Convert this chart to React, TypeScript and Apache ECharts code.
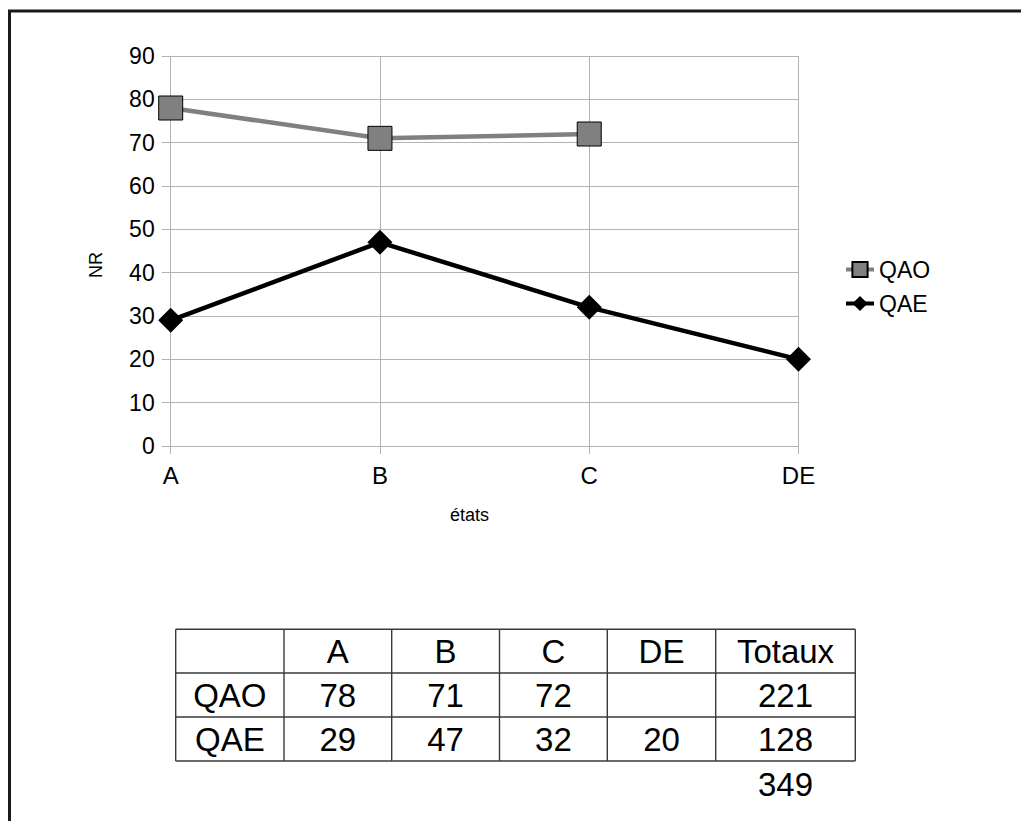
import React, { useEffect, useRef } from "react";
import * as echarts from "echarts";

const categories = ["A", "B", "C", "DE"];
const qaoValues: (number | null)[] = [78, 71, 72, null];
const qaeValues: (number | null)[] = [29, 47, 32, 20];
const seriesNames = ["QAO", "QAE"];
const yTicks = { min: 0, max: 90, interval: 10 };
const totalHeader = "Totaux";

const FONT = "Liberation Sans, Arial, sans-serif";

function sum(arr: (number | null)[]) {
  return arr.reduce((a: number, b) => a + (b == null ? 0 : b), 0);
}

function buildTable() {
  const colX = [175.7, 284, 391.7, 499.5, 607.3, 715.7, 855.3];
  const rowY = [629.3, 673, 717, 761];
  const els: any[] = [];
  const lineStyle = { stroke: "#3a3a3a", lineWidth: 1.4 };
  rowY.forEach((y) => {
    els.push({ type: "line", shape: { x1: colX[0], y1: y, x2: colX[colX.length - 1], y2: y }, style: lineStyle, silent: true });
  });
  colX.forEach((x) => {
    els.push({ type: "line", shape: { x1: x, y1: rowY[0], x2: x, y2: rowY[rowY.length - 1] }, style: lineStyle, silent: true });
  });
  const cx = (i: number) => (colX[i] + colX[i + 1]) / 2;
  const cy = (j: number) => (rowY[j] + rowY[j + 1]) / 2;
  const txt = (s: string, x: number, y: number) => ({
    type: "text",
    x,
    y,
    style: { text: s, fontSize: 33, fontFamily: FONT, fill: "#000", align: "center", verticalAlign: "middle" },
    silent: true,
  });
  const header = ["", ...categories, totalHeader];
  header.forEach((h, i) => { if (h) els.push(txt(h, cx(i), cy(0))); });
  const rows = [qaoValues, qaeValues];
  rows.forEach((vals, r) => {
    els.push(txt(seriesNames[r], cx(0), cy(r + 1)));
    vals.forEach((v, i) => { if (v != null) els.push(txt(String(v), cx(i + 1), cy(r + 1))); });
    els.push(txt(String(sum(vals)), cx(5), cy(r + 1)));
  });
  els.push(txt(String(sum(qaoValues) + sum(qaeValues)), cx(5), rowY[3] + 23));
  return els;
}

export default function App() {
  const ref = useRef<HTMLDivElement>(null);
  useEffect(() => {
    const chart = echarts.init(ref.current!, null, { renderer: "svg" });
    const option: any = {
      animation: false,
      backgroundColor: "#ffffff",
      textStyle: { fontFamily: FONT },
      grid: { left: 170.7, top: 56, right: 222.5, bottom: 375, containLabel: false },
      legend: {
        orient: "vertical",
        left: 839,
        top: 253,
        itemWidth: 28,
        itemHeight: 19,
        itemGap: 11,
        lineStyle: { width: 4 },
        textStyle: { fontSize: 23, color: "#000", fontFamily: FONT },
        data: seriesNames,
      },
      xAxis: {
        type: "category",
        data: categories,
        boundaryGap: false,
        name: "états",
        nameLocation: "middle",
        nameGap: 60,
        nameTextStyle: { fontSize: 18, color: "#000", fontFamily: FONT, padding: [0, 30, 0, 0] },
        axisLine: { show: true, lineStyle: { color: "#b3b3b3", width: 1 } },
        axisTick: { show: true, length: 8, alignWithLabel: true, lineStyle: { color: "#b3b3b3" } },
        axisLabel: { fontSize: 24, color: "#000", margin: 17, fontFamily: FONT },
        splitLine: { show: true, lineStyle: { color: "#b3b3b3", width: 1 } },
      },
      yAxis: {
        type: "value",
        min: yTicks.min,
        max: yTicks.max,
        interval: yTicks.interval,
        name: "NR",
        nameLocation: "middle",
        nameRotate: 90,
        nameGap: 66,
        nameTextStyle: { fontSize: 18, color: "#000", fontFamily: FONT, padding: [0, 28, 0, 0] },
        axisLine: { show: true, lineStyle: { color: "#b3b3b3", width: 1 } },
        axisTick: { show: true, length: 9, lineStyle: { color: "#b3b3b3" } },
        axisLabel: { fontSize: 23, color: "#000", margin: 16, fontFamily: FONT },
        splitLine: { show: true, lineStyle: { color: "#b3b3b3", width: 1 } },
      },
      series: [
        {
          name: seriesNames[0],
          type: "line",
          data: qaoValues,
          symbol: "rect",
          symbolSize: 24,
          lineStyle: { color: "#808080", width: 4.5 },
          itemStyle: { color: "#808080", borderColor: "#000", borderWidth: 1 },
          z: 3,
        },
        {
          name: seriesNames[1],
          type: "line",
          data: qaeValues,
          symbol: "diamond",
          symbolSize: 25,
          lineStyle: { color: "#000", width: 4.5 },
          itemStyle: { color: "#000" },
          z: 3,
        },
      ],
      graphic: [
        {
          type: "rect",
          shape: { x: 9.5, y: 11, width: 1100, height: 900 },
          style: { fill: "none", stroke: "#1a1a1a", lineWidth: 3 },
          silent: true,
        },
        ...buildTable(),
      ],
    };
    chart.setOption(option);
    return () => chart.dispose();
  }, []);
  return (
    <div
      ref={ref}
      style={{ position: "fixed", left: 0, top: 0, width: 1021, height: 821, background: "#fff" }}
    />
  );
}
